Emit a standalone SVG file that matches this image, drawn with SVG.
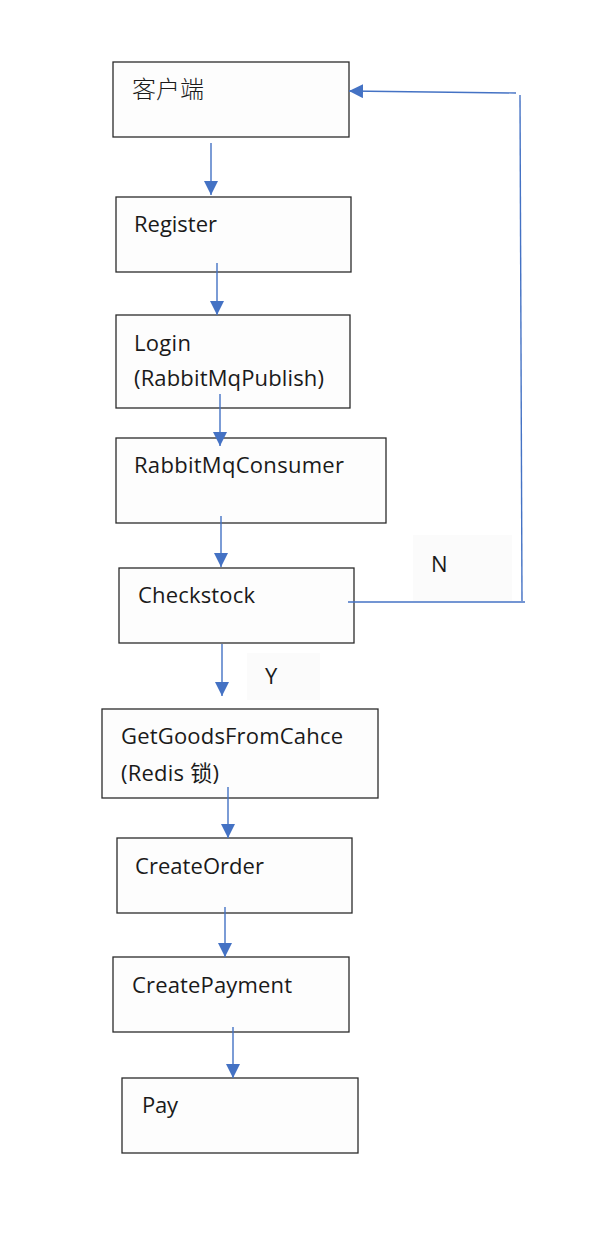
<svg xmlns="http://www.w3.org/2000/svg" width="600" height="1252" viewBox="0 0 600 1252">
<style>
.box{fill:#fdfdfd;stroke:#2b2b2b;stroke-width:1.3}
.t{font-family:"Open Sans","Noto Sans CJK SC",sans-serif;font-size:22px;fill:#1a1a1a}
.cjk{font-family:"Noto Sans CJK SC",sans-serif;font-size:24px;font-weight:300;fill:#1a1a1a}
.c{stroke:#4472c4;stroke-width:1.4;fill:none}
.lbl{fill:#fbfbfb}
</style>
<defs>
<marker id="ah2" viewBox="0 0 14 14" refX="14" refY="7" markerWidth="14" markerHeight="14" markerUnits="userSpaceOnUse" orient="auto">
<path d="M0,0 L14,7 L0,14 Z" fill="#4472c4"/>
</marker>
</defs>
<rect width="600" height="1252" fill="#ffffff"/>
<g id="labels">
<rect class="lbl" x="413" y="535" width="99" height="66"/>
<text class="t" x="431" y="572">N</text>
<rect class="lbl" x="247" y="653" width="73" height="47"/>
<text class="t" x="265" y="684">Y</text>
</g>
<g id="n1"><rect class="box" x="113" y="62" width="236" height="75"/><text class="cjk" x="132" y="98" textLength="72">客户端</text></g>
<g id="n2"><rect class="box" x="116" y="197" width="235" height="75"/><text class="t" x="134" y="232" textLength="83">Register</text></g>
<g id="n3"><rect class="box" x="116" y="315" width="234" height="93"/><text class="t" x="134" y="351" textLength="57">Login</text><text class="t" x="134" y="386" textLength="190">(RabbitMqPublish)</text></g>
<g id="n4"><rect class="box" x="116" y="438" width="270" height="85"/><text class="t" x="134" y="473" textLength="210">RabbitMqConsumer</text></g>
<g id="n5"><rect class="box" x="119" y="568" width="235" height="75"/><text class="t" x="138" y="603" textLength="117">Checkstock</text></g>
<g id="n6"><rect class="box" x="102" y="709" width="276" height="89"/><text class="t" x="121" y="744" textLength="222">GetGoodsFromCahce</text><text class="t" x="121" y="781" textLength="98">(Redis 锁)</text></g>
<g id="n7"><rect class="box" x="117" y="838" width="235" height="75"/><text class="t" x="135" y="874" textLength="129">CreateOrder</text></g>
<g id="n8"><rect class="box" x="113" y="957" width="236" height="75"/><text class="t" x="132" y="993" textLength="160">CreatePayment</text></g>
<g id="n9"><rect class="box" x="122" y="1078" width="236" height="75"/><text class="t" x="142" y="1113" textLength="36">Pay</text></g>
<g id="connectors">
<line class="c" x1="211" y1="143" x2="211" y2="195" marker-end="url(#ah2)"/>
<line class="c" x1="217" y1="263" x2="217" y2="315" marker-end="url(#ah2)"/>
<line class="c" x1="220" y1="394" x2="220" y2="446" marker-end="url(#ah2)"/>
<line class="c" x1="221" y1="516" x2="221" y2="567" marker-end="url(#ah2)"/>
<line class="c" x1="222" y1="644" x2="222" y2="696" marker-end="url(#ah2)"/>
<line class="c" x1="228" y1="787" x2="228" y2="838" marker-end="url(#ah2)"/>
<line class="c" x1="225" y1="907" x2="225" y2="957" marker-end="url(#ah2)"/>
<line class="c" x1="233" y1="1027" x2="233" y2="1078" marker-end="url(#ah2)"/>
<line class="c" x1="348" y1="602" x2="525" y2="602"/>
<line class="c" x1="522" y1="601" x2="520" y2="95"/>
<line class="c" x1="516" y1="93" x2="349" y2="91" marker-end="url(#ah2)"/>
</g>
</svg>
